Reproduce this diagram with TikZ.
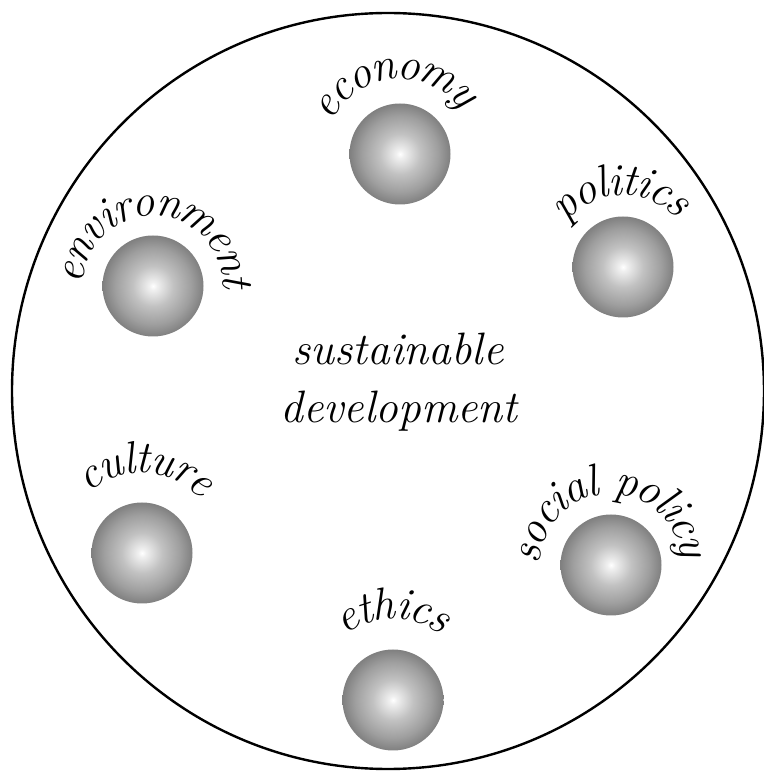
\documentclass[tikz,border=0pt]{standalone}
\usetikzlibrary{decorations.text}

\newcommand\lblfont{\fontsize{22.7}{28}\selectfont\itshape}
\pgfdeclareradialshading{sphere}{\pgfpoint{0bp}{0bp}}{%
  color(0bp)=(white); color(2bp)=(black!6); color(10bp)=(black!24);
  color(19bp)=(black!38); color(25bp)=(black!50); color(50bp)=(black!50)}

\begin{document}
\begin{tikzpicture}[
    x=0.5pt, y=0.5pt,
    ball/.style={circle, minimum size=50.5pt, inner sep=0pt, shading=sphere},
    lbl/.style={decorate, decoration={text along path, text align=center,
        raise=-3.5pt, text={|\lblfont|#1}}}
]
\useasboundingbox (0,0) rectangle (764,772);
\draw[line width=1.2pt] (388,381) ellipse [x radius=376, y radius=378];

% spheres
\node[ball] (eco) at (400,618) {};
\node[ball] (pol) at (623,505) {};
\node[ball] (env) at (153,486) {};
\node[ball] (cul) at (142,219) {};
\node[ball] (soc) at (611,207) {};
\node[ball] (eth) at (393,72) {};

% curved labels
\path[lbl=economy] (eco.center) ++(205:82) arc[start angle=205, end angle=-15, radius=82];
\path[lbl=politics] (pol.center) ++(202:79) arc[start angle=202, end angle=-18, radius=79];
\path[lbl=environment] (env.center) ++(198:77) arc[start angle=198, end angle=-22, radius=77];
\path[lbl=culture] (cul.center) ++(197:87) arc[start angle=197, end angle=-23, radius=87];
\path[lbl=social policy] (soc.center) ++(202:78) arc[start angle=202, end angle=-18, radius=78];
\path[lbl=ethics] (eth.center) ++(200:88) arc[start angle=200, end angle=-20, radius=88];

\node[anchor=base, font=\lblfont, inner sep=0pt] (sus) at (398,407) {sustainable};
\node[anchor=base, font=\lblfont, inner sep=0pt] (dev) at (399,349) {development};
\end{tikzpicture}
\end{document}
